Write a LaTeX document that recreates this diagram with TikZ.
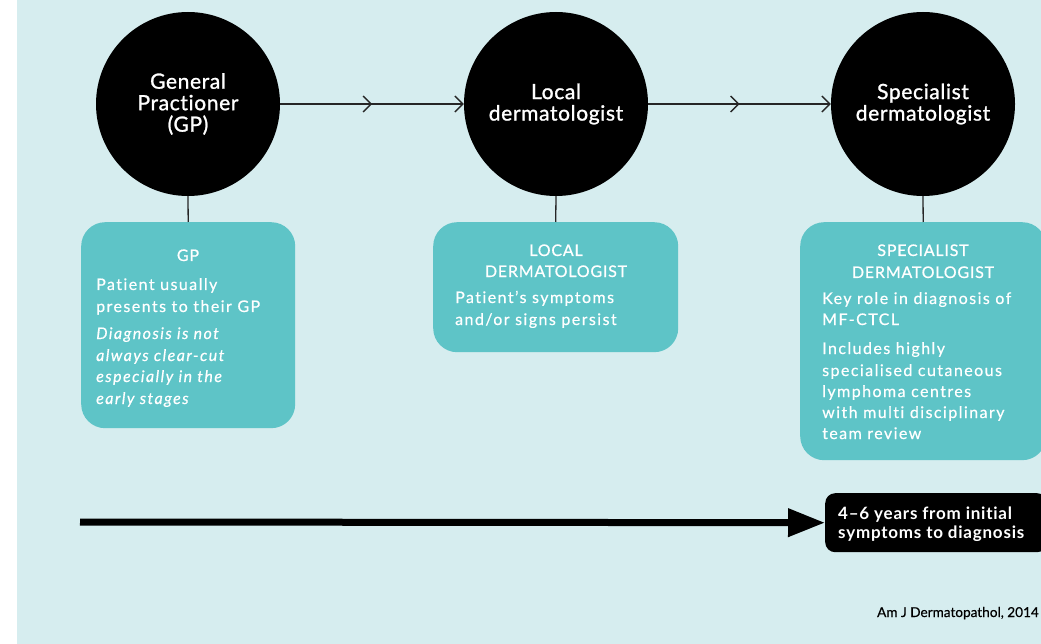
\documentclass[tikz,border=0pt]{standalone}
\usepackage{fontspec}
\setmainfont{Lato}[Ligatures=NoCommon,LetterSpace=9,FakeBold=0.5]
\newfontfamily\ttlfont{Lato}[Ligatures=NoCommon,FakeBold=0.7,LetterSpace=5]
\newfontfamily\circfont{Lato}[Ligatures=NoCommon,FakeBold=1.2,LetterSpace=3]
\newfontfamily\blkfont{Lato}[Ligatures=NoCommon,LetterSpace=4.5]
\newfontfamily\citefont{Lato}[Ligatures=NoCommon,FakeBold=0.3]
\usetikzlibrary{arrows.meta,calc}
\definecolor{bgc}{RGB}{214,237,239}
\definecolor{tealc}{RGB}{94,196,199}
\begin{document}
\begin{tikzpicture}[x=1pt,y=-1pt,
  circ/.style={circle,fill=black,minimum size=184pt,inner sep=0pt,text=white,align=center,font=\circfont\fontsize{21}{21.5}\selectfont},
  card/.style={fill=tealc,rounded corners=24pt,anchor=north west,inner sep=0pt},
  ttl/.style={text=white,anchor=base,inner sep=0pt,font=\ttlfont\fontsize{16}{18}\selectfont},
  bod/.style={text=white,anchor=base west,inner sep=0pt,font=\fontsize{16}{18}\selectfont},
  itl/.style={text=white,anchor=base west,inner sep=0pt,font=\fontsize{16}{18}\selectfont\itshape},
  link/.style={line width=1.3pt,draw=black!85},
  tip/.style={-{Straight Barb[length=8pt,width=16pt]}},
  blk/.style={fill=black,rounded corners=10pt,anchor=north west,inner sep=0pt,minimum width=222pt,minimum height=59pt},
  blkt/.style={text=white,anchor=base west,inner sep=0pt,font=\blkfont\fontsize{17}{19}\selectfont\bfseries},
]
\useasboundingbox (0,0) rectangle (1041,644);
\clip (0,0) rectangle (1041,644);
\fill[white] (0,0) rectangle (1041,644);
\fill[bgc] (17,0) rectangle (1041,644);

% circles
\node[circ] (gp) at (188,104) {General\\Practioner\\(GP)};
\node[circ] (ld) at (556,104) {Local\\dermatologist};
\node[circ] (sd) at (923,104) {Specialist\\dermatologist};

% cards
\node[card,minimum width=214pt,minimum height=206pt] (gpbox) at (81,222) {};
\node[card,minimum width=245pt,minimum height=130pt] (ldbox) at (433,222) {};
\node[card,minimum width=246pt,minimum height=238pt] (sdbox) at (800,222) {};

% connectors
\draw[link,tip] (gp.east) -- (ld.west);
\draw[link,tip] (gp.east) -- ($(gp.east)!0.5!(ld.west)$);
\draw[link,tip] (ld.east) -- (sd.west);
\draw[link,tip] (ld.east) -- ($(ld.east)!0.5!(sd.west)$);
\draw[link] (gp.south) -- (gpbox.north);
\draw[link] (ld.south) -- (ldbox.north);
\draw[link] (sd.south) -- (sdbox.north);

% card 1 text
\node[ttl] (gpt) at (188,261) {GP};
\node[bod] (gp1) at (96,290) {Patient usually};
\node[bod] (gp2) at (96,312) {presents to their GP};
\node[itl] (gp3) at (96,339) {Diagnosis is not};
\node[itl] (gp4) at (96,361) {always clear-cut};
\node[itl] (gp5) at (96,382) {especially in the};
\node[itl] (gp6) at (96,404) {early stages};

% card 2 text
\node[ttl] (ldt1) at (556,256) {LOCAL};
\node[ttl] (ldt2) at (556,277) {DERMATOLOGIST};
\node[bod] (ld1) at (455,303) {Patient’s symptoms};
\node[bod] (ld2) at (455,325) {and/or signs persist};

% card 3 text
\node[ttl] (sdt1) at (923,256) {SPECIALIST};
\node[ttl] (sdt2) at (923,278) {DERMATOLOGIST};
\node[bod] (sd1) at (822,304) {Key role in diagnosis of};
\node[bod] (sd2) at (822,325) {MF-CTCL};
\node[bod] (sd3) at (822,354) {Includes highly};
\node[bod] (sd4) at (822,376) {specialised cutaneous};
\node[bod] (sd5) at (822,397) {lymphoma centres};
\node[bod] (sd6) at (822,418) {with multi disciplinary};
\node[bod] (sd7) at (822,439) {team review};

% timeline
\coordinate (st) at (80,522);
\node[blk] (yrs) at (825,493) {};
\draw[line width=7pt,-{Triangle[length=37pt,width=27pt]}] (st) -- (yrs.west);
\node[blkt] (y1) at (838,519) {4–6 years from initial};
\node[blkt] (y2) at (838,538) {symptoms to diagnosis};

% citation
\node[anchor=base east,inner sep=0pt,font=\citefont\fontsize{13.6}{15}\selectfont] (cite) at (1039,617) {Am J Dermatopathol, 2014};
\end{tikzpicture}
\end{document}
